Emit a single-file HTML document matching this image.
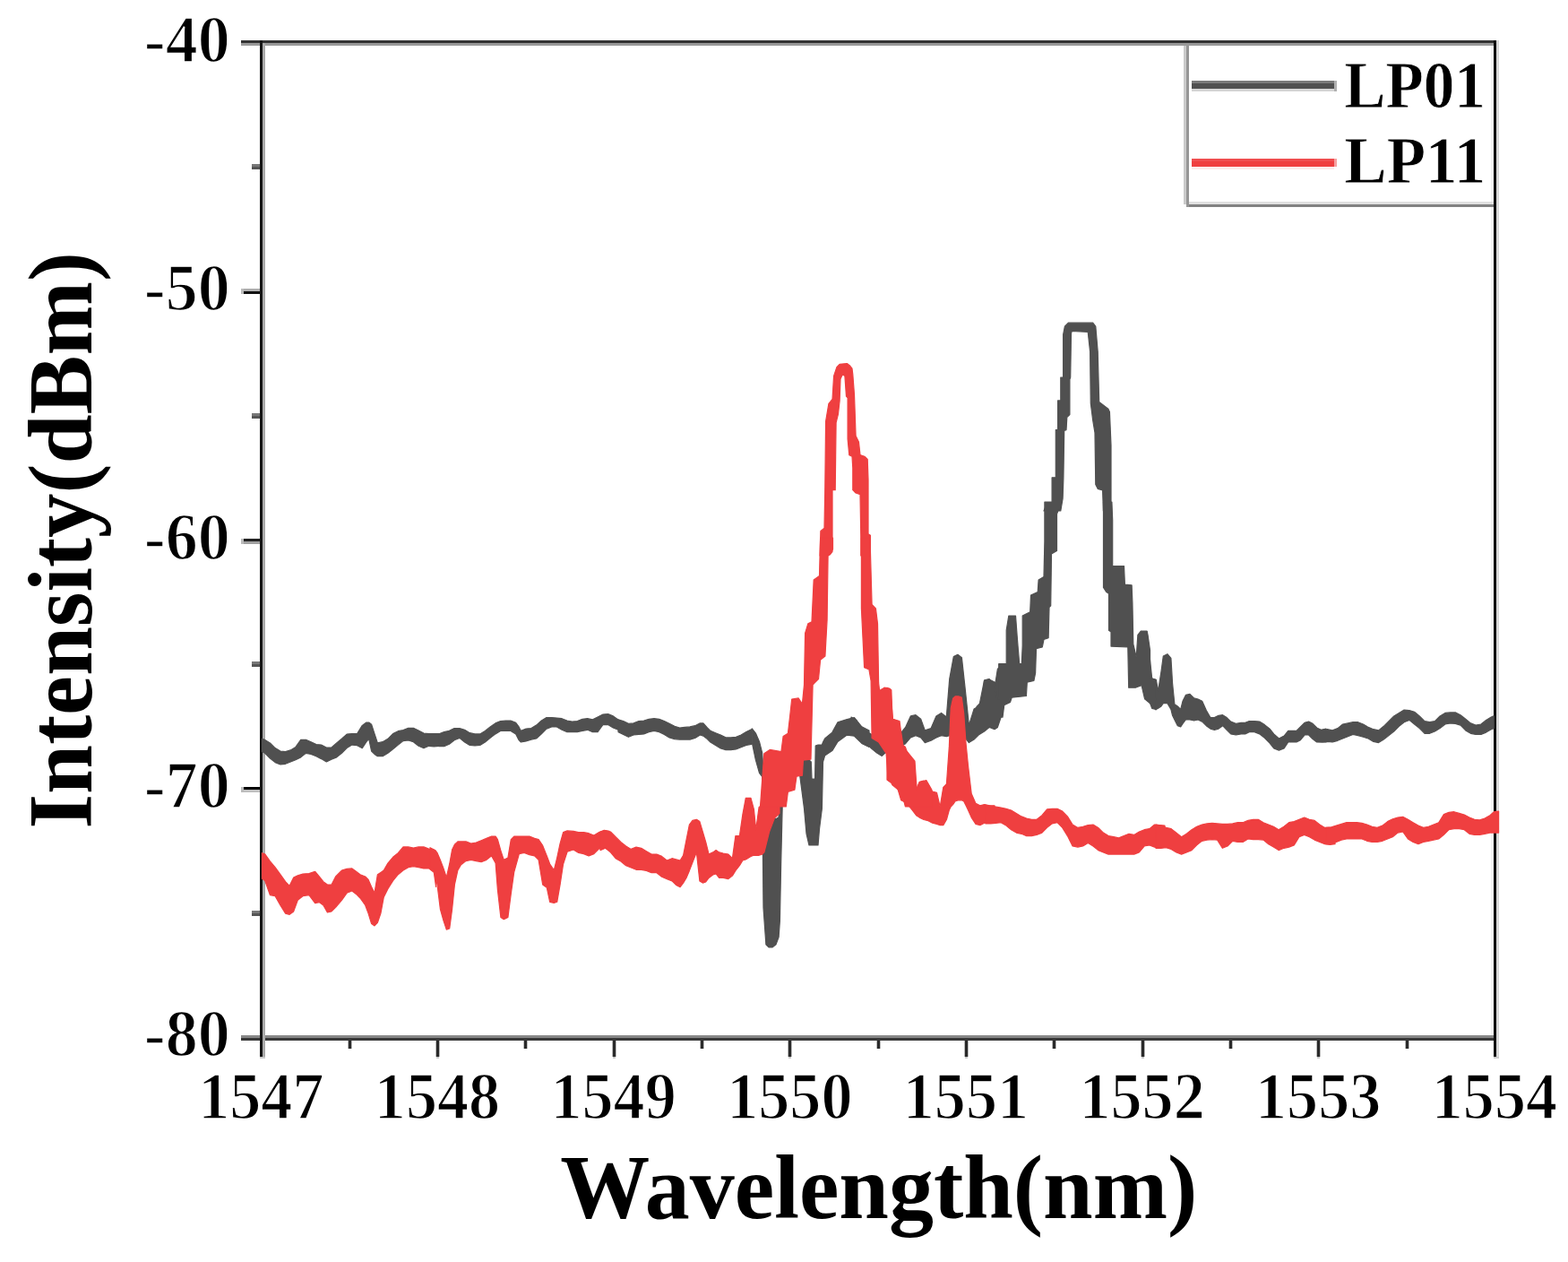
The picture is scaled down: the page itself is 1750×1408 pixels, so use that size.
<!DOCTYPE html>
<html><head><meta charset="utf-8"><title>Spectrum</title>
<style>html,body{margin:0;padding:0;background:#fff;overflow:hidden;}svg{display:block;}</style>
</head><body>
<svg width="1750" height="1408" viewBox="0 0 1750 1408">
<rect width="1750" height="1408" fill="#fff"/>
<g shape-rendering="crispEdges">
<rect x="269" y="45" width="1404" height="3" fill="#333"/>
<rect x="269" y="48" width="1404" height="3" fill="#999"/>
<rect x="269" y="1155" width="1404" height="3" fill="#888"/>
<rect x="269" y="1158" width="1404" height="3" fill="#383838"/>
<rect x="290" y="45" width="3" height="1134" fill="#151515"/>
<rect x="293" y="48" width="3" height="1131" fill="#aaa"/>
<rect x="290" y="1179" width="6" height="2" fill="#ccc"/>
<rect x="1667" y="45" width="3" height="1134" fill="#0a0a0a"/>
<rect x="1670" y="45" width="3" height="1134" fill="#d8d8d8"/>
<rect x="1664" y="51" width="3" height="1104" fill="#f4f4f4"/>
<rect x="1667" y="1179" width="6" height="2" fill="#ccc"/>
<rect x="272" y="322" width="18" height="3" fill="#b0b0b0"/>
<rect x="269" y="322" width="3" height="3" fill="#bbb"/>
<rect x="272" y="325" width="18" height="3" fill="#111"/>
<rect x="269" y="325" width="3" height="3" fill="#bbb"/>
<rect x="272" y="601" width="18" height="3" fill="#222"/>
<rect x="269" y="601" width="3" height="3" fill="#bbb"/>
<rect x="272" y="604" width="18" height="3" fill="#a0a0a0"/>
<rect x="269" y="604" width="3" height="3" fill="#bbb"/>
<rect x="272" y="878" width="18" height="3" fill="#000"/>
<rect x="269" y="878" width="3" height="3" fill="#bbb"/>
<rect x="272" y="881" width="18" height="3" fill="#c0c0c0"/>
<rect x="269" y="881" width="3" height="3" fill="#bbb"/>
<rect x="281" y="183" width="9" height="3" fill="#777"/>
<rect x="281" y="186" width="9" height="3" fill="#555"/>
<rect x="281" y="461" width="9" height="3" fill="#777"/>
<rect x="281" y="464" width="9" height="3" fill="#555"/>
<rect x="281" y="738" width="9" height="3" fill="#777"/>
<rect x="281" y="741" width="9" height="3" fill="#555"/>
<rect x="281" y="1016" width="9" height="3" fill="#777"/>
<rect x="281" y="1019" width="9" height="3" fill="#555"/>
<rect x="388.6" y="1161" width="3" height="9" fill="#2a2a2a"/>
<rect x="387.6" y="1161" width="1" height="9" fill="#bbb"/>
<rect x="391.6" y="1161" width="1" height="9" fill="#bbb"/>
<rect x="487.0" y="1161" width="3" height="18" fill="#2a2a2a"/>
<rect x="486.0" y="1161" width="1" height="18" fill="#bbb"/>
<rect x="490.0" y="1161" width="1" height="18" fill="#bbb"/>
<rect x="487.0" y="1179" width="3" height="2" fill="#ccc"/>
<rect x="585.3" y="1161" width="3" height="9" fill="#2a2a2a"/>
<rect x="584.3" y="1161" width="1" height="9" fill="#bbb"/>
<rect x="588.3" y="1161" width="1" height="9" fill="#bbb"/>
<rect x="683.6" y="1161" width="3" height="18" fill="#2a2a2a"/>
<rect x="682.6" y="1161" width="1" height="18" fill="#bbb"/>
<rect x="686.6" y="1161" width="1" height="18" fill="#bbb"/>
<rect x="683.6" y="1179" width="3" height="2" fill="#ccc"/>
<rect x="781.9" y="1161" width="3" height="9" fill="#2a2a2a"/>
<rect x="780.9" y="1161" width="1" height="9" fill="#bbb"/>
<rect x="784.9" y="1161" width="1" height="9" fill="#bbb"/>
<rect x="880.3" y="1161" width="3" height="18" fill="#2a2a2a"/>
<rect x="879.3" y="1161" width="1" height="18" fill="#bbb"/>
<rect x="883.3" y="1161" width="1" height="18" fill="#bbb"/>
<rect x="880.3" y="1179" width="3" height="2" fill="#ccc"/>
<rect x="978.6" y="1161" width="3" height="9" fill="#2a2a2a"/>
<rect x="977.6" y="1161" width="1" height="9" fill="#bbb"/>
<rect x="981.6" y="1161" width="1" height="9" fill="#bbb"/>
<rect x="1076.9" y="1161" width="3" height="18" fill="#2a2a2a"/>
<rect x="1075.9" y="1161" width="1" height="18" fill="#bbb"/>
<rect x="1079.9" y="1161" width="1" height="18" fill="#bbb"/>
<rect x="1076.9" y="1179" width="3" height="2" fill="#ccc"/>
<rect x="1175.3" y="1161" width="3" height="9" fill="#2a2a2a"/>
<rect x="1174.3" y="1161" width="1" height="9" fill="#bbb"/>
<rect x="1178.3" y="1161" width="1" height="9" fill="#bbb"/>
<rect x="1273.6" y="1161" width="3" height="18" fill="#2a2a2a"/>
<rect x="1272.6" y="1161" width="1" height="18" fill="#bbb"/>
<rect x="1276.6" y="1161" width="1" height="18" fill="#bbb"/>
<rect x="1273.6" y="1179" width="3" height="2" fill="#ccc"/>
<rect x="1371.9" y="1161" width="3" height="9" fill="#2a2a2a"/>
<rect x="1370.9" y="1161" width="1" height="9" fill="#bbb"/>
<rect x="1374.9" y="1161" width="1" height="9" fill="#bbb"/>
<rect x="1470.2" y="1161" width="3" height="18" fill="#2a2a2a"/>
<rect x="1469.2" y="1161" width="1" height="18" fill="#bbb"/>
<rect x="1473.2" y="1161" width="1" height="18" fill="#bbb"/>
<rect x="1470.2" y="1179" width="3" height="2" fill="#ccc"/>
<rect x="1568.6" y="1161" width="3" height="9" fill="#2a2a2a"/>
<rect x="1567.6" y="1161" width="1" height="9" fill="#bbb"/>
<rect x="1571.6" y="1161" width="1" height="9" fill="#bbb"/>
</g>
<g font-family="Liberation Serif, serif" font-weight="bold" fill="#000" stroke="#fff" stroke-width="1.6">
<text transform="translate(256.7,69.1) scale(0.979,1)" font-size="73.5" text-anchor="end">-40</text>
<text transform="translate(256.7,345.5) scale(0.979,1)" font-size="73.5" text-anchor="end">-50</text>
<text transform="translate(256.7,624.0) scale(0.979,1)" font-size="73.5" text-anchor="end">-60</text>
<text transform="translate(256.7,901.0) scale(0.979,1)" font-size="73.5" text-anchor="end">-70</text>
<text transform="translate(256.7,1178.3) scale(0.979,1)" font-size="73.5" text-anchor="end">-80</text>
<text transform="translate(291.3,1248.3) scale(0.942,1)" font-size="74.5" text-anchor="middle">1547</text>
<text transform="translate(488.0,1248.3) scale(0.942,1)" font-size="74.5" text-anchor="middle">1548</text>
<text transform="translate(684.6,1248.3) scale(0.942,1)" font-size="74.5" text-anchor="middle">1549</text>
<text transform="translate(881.3,1248.3) scale(0.942,1)" font-size="74.5" text-anchor="middle">1550</text>
<text transform="translate(1077.9,1248.3) scale(0.942,1)" font-size="74.5" text-anchor="middle">1551</text>
<text transform="translate(1274.6,1248.3) scale(0.942,1)" font-size="74.5" text-anchor="middle">1552</text>
<text transform="translate(1471.2,1248.3) scale(0.942,1)" font-size="74.5" text-anchor="middle">1553</text>
<text transform="translate(1667.9,1248.3) scale(0.942,1)" font-size="74.5" text-anchor="middle">1554</text>
<text transform="translate(980.8,1359.2) scale(0.994,1)" font-size="100.6" text-anchor="middle" stroke="none">Wavelength(nm)</text>
<text transform="translate(102.4,924.4) rotate(-90) scale(0.9675,1)" font-size="102.3" stroke="none">Intensity(dBm)</text>
<text transform="translate(1500.35,119.87) scale(0.9415,1)" font-size="73.5" stroke-width="0.8">LP01</text>
<text transform="translate(1500.35,203.97) scale(0.966,1)" font-size="73.5" stroke-width="0.8">LP11</text>
</g>
<g shape-rendering="crispEdges">
<rect x="1321" y="51" width="3" height="177" fill="#cacaca"/>
<rect x="1324" y="51" width="3" height="180" fill="#969696"/>
<rect x="1327" y="225" width="340" height="3" fill="#e0e0e0"/>
<rect x="1327" y="228" width="340" height="3" fill="#828282"/>
<rect x="1330" y="90" width="159" height="3" fill="#7a7a7a"/>
<rect x="1330" y="93" width="159" height="6" fill="#505050"/>
<rect x="1330" y="99" width="159" height="3" fill="#d5d5d5"/>
<rect x="1489" y="90" width="3" height="12" fill="#b0b0b0"/>
<rect x="1330" y="177" width="159" height="3" fill="#f04e50"/>
<rect x="1330" y="180" width="159" height="6" fill="#ef3f40"/>
<rect x="1330" y="186" width="159" height="3" fill="#fdecec"/>
<rect x="1489" y="177" width="3" height="9" fill="#f6a0a0"/>
</g>
<g fill="#505050" stroke="#505050" stroke-width="1.2" stroke-linejoin="round">
<path d="M292.5,824.3 295.7,825.4 301.4,828.9 307.1,834.6 312.9,838.0 318.6,838.6 324.3,836.9 330.0,833.4 335.7,825.4 341.4,825.4 347.1,827.7 352.9,830.6 358.6,831.1 364.3,834.0 370.0,834.0 375.7,828.9 381.4,824.3 387.1,819.1 392.9,818.6 398.6,818.6 404.3,809.4 408.9,806.0 411.7,806.0 414.6,808.3 418.0,818.6 421.4,828.9 427.1,827.7 432.9,824.3 438.6,818.6 444.3,815.7 450.0,814.6 455.7,812.3 461.4,812.3 467.1,815.1 472.9,818.0 478.6,818.6 484.3,818.6 490.0,818.6 490.0,832.3 484.3,832.9 478.6,832.3 472.9,834.6 467.1,832.3 461.4,827.7 455.7,826.0 450.0,826.6 444.3,831.1 438.6,835.7 432.9,840.3 427.1,843.7 421.4,843.7 418.0,841.4 414.6,838.0 411.7,824.3 408.9,827.7 404.3,834.6 398.6,831.7 392.9,831.1 387.1,834.6 381.4,840.3 375.7,844.9 370.0,847.1 364.3,850.0 358.6,846.6 352.9,843.7 347.1,841.4 341.4,840.3 335.7,844.9 330.0,847.7 324.3,850.0 318.6,852.3 312.9,852.9 307.1,850.6 301.4,846.0 295.7,840.3 292.5,838.6Z"/>
<path d="M490.0,818.9 495.7,816.6 501.4,815.4 507.1,812.6 512.9,812.6 518.6,814.3 524.3,817.7 530.0,818.9 535.7,818.9 541.4,815.4 547.1,810.9 552.9,806.9 558.6,804.6 564.3,804.0 570.0,804.0 575.7,806.3 579.1,810.9 581.4,815.4 587.1,813.1 592.9,812.6 598.6,809.1 604.3,804.0 610.0,800.6 615.7,800.6 621.4,801.1 627.1,801.7 632.9,804.0 638.6,805.1 644.3,804.6 650.0,802.3 655.7,801.7 661.4,802.9 667.1,800.0 672.9,797.1 678.6,796.6 684.3,798.9 690.0,802.9 690.0,814.3 684.3,812.0 678.6,808.6 672.9,808.6 667.1,816.6 661.4,816.6 655.7,814.3 650.0,815.4 644.3,816.6 638.6,816.6 632.9,816.6 627.1,814.3 621.4,810.9 615.7,810.9 610.0,813.1 604.3,818.9 598.6,824.0 592.9,825.1 587.1,826.9 581.4,828.0 579.1,825.7 575.7,818.9 570.0,815.4 564.3,815.4 558.6,815.4 552.9,818.9 547.1,823.4 541.4,828.0 535.7,831.4 530.0,832.0 524.3,831.4 518.6,828.0 512.9,823.4 507.1,825.7 501.4,830.3 495.7,832.6 490.0,832.6Z"/>
<path d="M690.0,802.9 695.7,804.6 701.4,807.4 707.1,806.9 712.9,804.6 718.6,804.0 724.3,802.3 730.0,801.7 735.7,802.3 741.4,804.6 747.1,807.4 752.9,810.3 758.6,812.0 764.3,811.4 770.0,810.9 775.7,809.7 781.4,806.9 784.9,806.9 789.4,812.0 792.9,815.4 798.6,817.7 804.3,820.0 810.0,822.9 815.7,822.9 821.4,822.3 827.1,820.0 832.9,816.6 838.6,813.7 838.6,830.3 832.9,831.4 827.1,833.7 821.4,836.0 815.7,836.6 810.0,836.6 804.3,834.9 798.6,831.4 792.9,828.0 789.4,824.6 784.9,821.1 781.4,820.0 775.7,823.4 770.0,825.1 764.3,825.1 758.6,825.1 752.9,824.6 747.1,822.9 741.4,819.4 735.7,816.6 730.0,815.4 724.3,816.6 718.6,818.9 712.9,819.4 707.1,820.0 701.4,822.3 695.7,819.4 690.0,816.6Z"/>
<path d="M839.3,812.9 843.4,818.1 847.5,827.4 850.6,839.7 852.0,858.2 854.9,862.4 858.0,872.6 861.9,911.8 866.0,913.8 869.1,911.8 870.4,841.8 871.6,839.7 874.3,839.7 881.5,841.8 891.8,845.9 897.5,848.0 900.0,848.0 903.0,848.0 905.3,850.0 906.0,869.0 909.6,869.0 910.2,832.0 913.0,831.0 914.5,831.0 917.4,831.0 918.5,828.0 920.6,824.0 928.8,817.1 935.0,805.7 945.3,802.6 953.5,800.6 961.8,810.9 970.0,815.0 970.0,833.5 961.8,829.4 953.5,821.2 945.3,820.1 935.0,827.4 928.8,837.6 920.6,843.0 918.5,850.0 917.4,902.0 914.5,925.0 913.0,943.0 910.2,943.0 909.6,943.0 906.0,943.0 905.3,943.0 903.0,943.0 900.0,930.0 897.5,902.0 891.8,858.2 881.5,854.1 874.3,852.1 871.6,965.3 870.4,1027.1 869.1,1045.6 866.0,1053.8 861.9,1056.9 858.0,1056.9 854.9,1053.8 852.0,1012.7 850.6,866.5 847.5,862.4 843.4,847.9 839.3,828.4Z"/>
<path d="M950.0,800.0 955.7,803.4 961.4,813.7 967.1,816.0 972.9,819.4 978.6,822.9 984.3,825.1 995.7,819.4 1004.9,818.3 1010.6,811.4 1016.3,798.9 1022.0,797.7 1027.7,802.3 1032.3,814.9 1039.1,812.6 1044.9,798.9 1050.6,795.4 1056.3,800.0 1059.7,757.7 1064.3,732.6 1068.9,730.3 1073.4,733.7 1076.9,765.7 1081.4,809.1 1087.1,790.9 1092.9,787.4 1098.6,758.9 1104.3,757.7 1110.0,768.0 1113.4,746.3 1119.1,740.6 1119.1,794.3 1113.4,811.4 1110.0,813.7 1104.3,811.4 1098.6,816.0 1092.9,819.4 1087.1,825.1 1081.4,828.6 1076.9,822.9 1073.4,820.6 1068.9,819.4 1064.3,820.6 1059.7,820.6 1056.3,821.7 1050.6,820.6 1044.9,822.9 1039.1,826.3 1032.3,828.6 1027.7,822.9 1022.0,820.6 1016.3,822.9 1010.6,829.7 1004.9,833.1 995.7,833.1 984.3,843.4 978.6,840.0 972.9,835.4 967.1,829.7 961.4,825.1 955.7,820.6 950.0,817.1Z"/>
<path d="M1280.0,704.6 1282.3,725.1 1285.7,757.1 1290.3,758.3 1292.6,770.9 1296.0,749.1 1298.3,732.0 1302.9,729.7 1306.9,734.3 1308.6,762.9 1310.9,785.7 1314.3,788.0 1317.7,791.4 1320.0,782.3 1323.4,775.4 1328.0,774.3 1332.6,778.9 1337.1,780.0 1341.7,782.3 1346.3,792.6 1350.9,800.6 1355.4,800.6 1360.0,798.3 1364.6,797.7 1369.1,800.6 1373.7,805.1 1379.4,807.4 1385.1,806.3 1389.7,806.3 1394.3,804.6 1400.0,804.6 1405.7,805.1 1411.4,808.6 1417.1,813.1 1421.7,818.9 1427.4,824.0 1433.1,821.1 1437.7,815.4 1442.3,815.4 1446.9,815.4 1451.4,810.9 1456.0,806.3 1460.6,805.1 1465.1,807.4 1469.7,812.0 1474.3,814.3 1480.0,813.1 1480.0,828.0 1474.3,828.0 1469.7,828.0 1465.1,824.6 1460.6,820.0 1456.0,820.0 1451.4,825.7 1446.9,828.0 1442.3,828.0 1437.7,828.0 1433.1,834.9 1427.4,837.1 1421.7,834.9 1417.1,829.1 1411.4,823.4 1405.7,818.9 1400.0,816.6 1394.3,816.6 1389.7,818.9 1385.1,818.9 1379.4,820.0 1373.7,818.9 1369.1,814.3 1364.6,809.7 1360.0,813.1 1355.4,814.3 1350.9,813.1 1346.3,809.7 1341.7,805.1 1337.1,802.9 1332.6,804.0 1328.0,802.9 1323.4,802.9 1320.0,807.4 1317.7,810.9 1314.3,809.7 1310.9,802.9 1308.6,798.3 1306.9,791.4 1302.9,784.6 1298.3,784.6 1296.0,788.0 1292.6,790.3 1290.3,791.4 1285.7,790.3 1282.3,781.1 1280.0,780.0Z"/>
<path d="M1470.0,813.7 1475.7,814.9 1481.4,813.7 1487.1,814.9 1492.9,812.6 1498.6,808.0 1504.3,806.9 1510.0,805.7 1515.7,805.7 1521.4,808.0 1527.1,811.4 1532.9,813.7 1538.6,814.9 1544.3,810.3 1550.0,804.6 1555.7,798.9 1561.4,795.4 1567.1,792.0 1572.9,792.6 1578.6,794.3 1584.3,798.9 1590.0,804.6 1595.7,805.7 1601.4,804.6 1607.1,798.9 1612.9,795.4 1618.6,794.9 1624.3,794.9 1630.0,797.7 1635.7,802.3 1641.4,806.9 1647.1,809.1 1652.9,808.0 1658.6,803.4 1664.3,800.0 1667.1,798.9 1667.1,812.6 1664.3,813.7 1658.6,817.1 1652.9,819.4 1647.1,819.4 1641.4,818.3 1635.7,814.9 1630.0,809.1 1624.3,807.4 1618.6,806.9 1612.9,808.0 1607.1,812.6 1601.4,816.0 1595.7,818.3 1590.0,818.3 1584.3,812.6 1578.6,808.0 1572.9,803.4 1567.1,805.7 1561.4,810.3 1555.7,816.0 1550.0,820.6 1544.3,825.1 1538.6,828.6 1532.9,827.4 1527.1,824.0 1521.4,822.3 1515.7,820.6 1510.0,819.4 1504.3,821.7 1498.6,824.0 1492.9,826.3 1487.1,828.0 1481.4,827.4 1475.7,828.0 1470.0,827.4Z"/>
<path d="M1165.0,570.0 1168.1,562.5 1174.1,562.5 1174.1,532.8 1178.3,532.8 1178.3,479.7 1180.6,479.7 1180.6,446.9 1183.8,446.9 1183.8,421.1 1186.6,421.1 1186.6,373.4 1188.4,364.1 1192.3,360.2 1219.7,360.2 1222.8,364.1 1225.2,392.2 1226.7,448.4 1236.9,456.2 1238.4,459.4 1240.0,496.9 1240.0,570.0 1231.4,570.0 1230.6,546.9 1225.2,545.3 1222.8,540.6 1222.0,482.8 1219.7,468.8 1217.3,450.0 1216.6,392.2 1214.2,370.3 1196.2,369.5 1195.5,371.9 1194.7,421.1 1193.9,423.4 1193.9,462.5 1190.8,465.6 1190.0,479.7 1187.7,480.5 1186.9,532.8 1186.1,556.2 1183.8,570.0Z"/>
<path d="M1090.0,788.5 1096.8,781.7 1098.5,759.5 1103.6,757.8 1110.5,761.2 1112.2,778.2 1114.7,779.9 1114.7,740.7 1123.2,740.7 1123.2,703.2 1125.8,687.0 1133.5,687.0 1135.2,710.0 1136.0,720.3 1137.7,740.7 1140.3,740.7 1141.2,720.3 1141.2,687.0 1144.6,685.3 1149.7,682.8 1150.5,664.0 1158.2,660.6 1159.1,647.0 1165.0,643.5 1165.9,604.3 1165.9,560.0 1184.6,560.0 1182.1,566.8 1179.5,573.6 1179.5,614.6 1173.5,618.0 1172.7,675.9 1171.0,677.6 1170.1,711.7 1165.0,713.5 1163.3,722.0 1156.5,723.7 1155.6,751.0 1153.9,759.5 1146.3,761.2 1145.4,776.5 1129.2,778.2 1127.5,783.4 1120.7,786.8 1119.0,800.1 1090.0,800.1Z"/>
<path d="M1231.5,560.0 1231.5,655.5 1234.9,660.6 1237.5,662.3 1237.5,703.2 1240.0,704.9 1240.0,721.1 1258.8,722.0 1259.7,767.2 1267.3,767.2 1274.1,764.6 1277.6,779.9 1286.1,786.8 1290.0,791.9 1290.0,758.6 1283.5,756.1 1283.5,725.4 1281.0,708.3 1280.1,704.1 1273.3,704.1 1269.9,708.3 1268.2,733.1 1264.8,718.6 1263.9,672.5 1263.1,652.9 1255.4,652.1 1254.5,631.6 1246.0,631.6 1241.7,631.6 1241.7,580.5 1240.9,560.0Z"/>
</g>
<g fill="#ef3f40" stroke="#ef3f40" stroke-width="1.2" stroke-linejoin="round">
<path d="M292.5,951.7 295.7,952.9 301.4,960.9 307.1,967.7 312.9,975.7 318.6,983.7 323.1,988.3 327.7,979.1 332.3,976.9 338.0,975.1 344.9,974.6 351.7,972.3 356.3,978.0 360.9,983.7 365.4,987.1 370.0,987.1 374.6,978.0 381.4,971.1 387.1,969.4 392.9,968.9 397.4,972.3 402.0,975.7 407.7,978.0 411.1,981.4 414.6,989.4 418.0,996.3 421.4,975.7 424.9,973.4 428.3,971.1 432.9,963.1 438.6,956.3 444.3,951.7 450.0,944.9 455.7,944.9 461.4,946.0 467.1,944.9 472.9,944.9 478.6,947.1 484.3,948.3 486.6,949.4 486.6,989.4 484.3,973.4 478.6,968.9 472.9,968.9 467.1,967.7 461.4,966.6 455.7,967.7 450.0,971.1 444.3,975.7 438.6,982.6 432.9,991.7 428.3,1000.9 424.9,1019.1 421.4,1029.4 418.0,1032.9 414.6,1030.6 411.1,1019.1 407.7,1010.0 402.0,1002.0 397.4,997.4 392.9,994.0 387.1,996.3 381.4,1004.3 374.6,1012.3 370.0,1016.9 365.4,1018.0 360.9,1010.0 356.3,1006.6 351.7,1007.7 344.9,998.6 338.0,999.7 332.3,1004.3 327.7,1016.9 323.1,1020.3 318.6,1019.1 312.9,1010.0 307.1,999.7 301.4,998.6 295.7,982.6 292.5,980.3Z"/>
<path d="M480.0,945.7 484.6,948.0 488.0,951.4 491.4,959.4 494.9,968.6 498.3,978.9 501.7,964.0 504.6,948.0 507.4,942.3 510.9,938.9 514.3,938.9 520.0,938.9 525.7,941.1 531.4,940.0 537.1,937.7 542.9,935.4 548.6,933.1 553.1,933.1 555.4,936.6 558.9,949.1 562.3,959.4 566.9,957.1 570.3,936.6 573.7,933.1 579.4,933.1 585.1,933.1 590.9,933.1 596.6,935.4 601.1,936.6 605.7,943.4 610.3,954.9 613.7,964.0 618.3,970.9 621.7,957.1 625.1,941.1 628.6,928.6 633.1,926.9 640.0,927.4 645.7,928.6 651.4,928.6 657.1,929.7 662.9,932.0 668.6,928.6 674.3,926.3 680.0,927.4 680.0,948.0 674.3,945.7 668.6,946.9 662.9,952.6 657.1,954.9 651.4,952.6 645.7,951.4 640.0,948.0 633.1,950.3 628.6,964.0 625.1,986.9 621.7,1006.3 618.3,1007.4 613.7,1006.3 610.3,990.3 605.7,986.9 601.1,959.4 596.6,954.9 590.9,953.7 585.1,951.4 579.4,952.6 573.7,973.1 570.3,997.1 566.9,1023.4 562.3,1025.7 558.9,1023.4 555.4,992.6 553.1,962.9 548.6,954.9 542.9,959.4 537.1,961.7 531.4,960.6 525.7,959.4 520.0,960.6 514.3,965.1 510.9,970.9 507.4,986.9 504.6,1014.3 501.7,1036.0 498.3,1037.1 494.9,1026.9 491.4,1014.3 488.0,986.9 484.6,970.9 480.0,968.6Z"/>
<path d="M670.0,928.0 675.7,926.9 681.4,928.0 687.1,933.7 692.9,939.4 698.6,944.0 704.3,947.4 710.0,945.1 715.7,946.3 721.4,949.7 727.1,953.1 732.9,953.1 738.6,955.4 744.3,960.0 750.0,957.7 754.6,958.9 759.1,960.0 762.6,954.3 766.0,937.1 769.4,920.0 772.9,915.4 777.4,914.3 780.9,916.6 784.3,928.0 787.7,939.4 791.1,953.1 795.7,950.9 799.1,948.6 802.6,950.9 807.1,952.0 812.9,953.1 817.4,957.7 820.9,932.6 825.4,932.6 828.9,908.6 832.3,890.3 838.0,890.3 841.4,902.9 843.7,925.7 847.1,900.6 850.6,898.3 852.9,880.0 858.6,880.0 864.3,880.0 870.0,880.0 870.0,907.4 864.3,913.1 858.6,928.0 852.9,950.9 850.6,953.1 847.1,954.3 843.7,954.3 841.4,954.3 838.0,955.4 832.3,958.9 828.9,960.0 825.4,965.7 820.9,971.4 817.4,977.1 812.9,980.6 807.1,979.4 802.6,979.4 799.1,974.9 795.7,976.0 791.1,979.4 787.7,984.0 784.3,985.1 780.9,982.9 777.4,950.9 772.9,962.3 769.4,971.4 766.0,979.4 762.6,985.1 759.1,989.7 754.6,987.4 750.0,982.9 744.3,980.6 738.6,978.3 732.9,973.7 727.1,973.7 721.4,971.4 715.7,970.3 710.0,970.3 704.3,968.0 698.6,965.7 692.9,961.1 687.1,957.7 681.4,950.9 675.7,946.3 670.0,948.6Z"/>
<path d="M990.0,767.2 994.8,769.7 996.0,802.3 1002.1,804.7 1005.7,830.0 1010.5,833.6 1014.1,844.5 1019.0,848.1 1022.6,880.7 1026.2,872.3 1031.0,871.1 1035.9,879.5 1040.7,883.1 1045.5,884.4 1049.2,900.0 1052.8,878.3 1056.4,874.7 1059.4,832.4 1061.2,790.2 1063.6,779.3 1066.1,776.9 1069.7,776.9 1073.3,778.1 1075.7,796.2 1078.1,830.0 1080.5,854.2 1084.2,885.6 1089.0,896.4 1093.8,898.8 1098.7,897.6 1104.7,898.8 1110.0,898.8 1110.0,918.2 1104.7,918.2 1098.7,918.2 1093.8,920.6 1089.0,919.4 1084.2,912.1 1080.5,903.7 1078.1,898.8 1075.7,894.0 1073.3,892.8 1069.7,892.8 1066.1,894.0 1063.6,897.6 1061.2,900.0 1059.4,903.7 1056.4,914.5 1052.8,920.6 1049.2,920.6 1045.5,919.4 1040.7,918.2 1035.9,915.7 1031.0,914.5 1026.2,912.1 1022.6,909.7 1019.0,904.9 1014.1,898.8 1010.5,895.2 1005.7,892.8 1002.1,880.7 996.0,875.9 994.8,873.5 990.0,869.9Z"/>
<path d="M1100.0,898.3 1105.7,899.4 1111.4,900.0 1117.1,901.1 1122.9,902.3 1128.6,904.0 1134.3,907.4 1140.0,910.9 1145.7,913.1 1151.4,914.3 1157.1,914.3 1162.9,909.7 1168.6,902.9 1174.3,902.3 1180.0,902.3 1185.7,905.1 1191.4,910.9 1197.1,920.0 1202.9,923.4 1208.6,922.3 1214.3,920.6 1220.0,920.0 1225.7,923.4 1231.4,929.1 1237.1,932.6 1242.9,933.7 1248.6,934.9 1254.3,932.6 1260.0,930.3 1265.7,931.4 1271.4,928.0 1277.1,925.7 1282.9,924.6 1288.6,920.0 1294.3,920.6 1300.0,921.1 1300.0,944.0 1294.3,946.3 1288.6,945.1 1282.9,942.9 1277.1,944.0 1271.4,950.9 1265.7,953.1 1260.0,953.1 1254.3,953.1 1248.6,953.1 1242.9,953.1 1237.1,953.1 1231.4,950.9 1225.7,948.6 1220.0,944.0 1214.3,940.6 1208.6,944.0 1202.9,945.1 1197.1,944.0 1191.4,932.6 1185.7,923.4 1180.0,917.7 1174.3,918.9 1168.6,923.4 1162.9,929.1 1157.1,931.4 1151.4,932.6 1145.7,932.6 1140.0,930.3 1134.3,929.1 1128.6,925.7 1122.9,921.1 1117.1,917.7 1111.4,918.3 1105.7,918.9 1100.0,918.9Z"/>
<path d="M1290.0,920.0 1295.7,921.1 1301.4,923.4 1307.1,924.6 1312.9,929.1 1318.6,933.7 1324.3,930.3 1330.0,925.7 1335.7,922.3 1341.4,920.0 1347.1,918.9 1352.9,918.3 1358.6,918.9 1364.3,919.4 1370.0,919.4 1375.7,918.9 1381.4,917.7 1387.1,917.7 1392.9,915.4 1398.6,914.3 1404.3,914.3 1410.0,917.7 1415.7,920.0 1421.4,922.3 1427.1,925.7 1432.9,922.3 1438.6,917.7 1444.3,916.6 1450.0,914.3 1455.7,912.0 1461.4,914.3 1467.1,915.4 1472.9,920.0 1478.6,923.4 1484.3,923.4 1490.0,923.4 1490.0,941.7 1484.3,942.3 1478.6,941.7 1472.9,939.4 1467.1,937.1 1461.4,933.7 1455.7,931.4 1450.0,933.7 1444.3,942.9 1438.6,945.1 1432.9,946.3 1427.1,948.6 1421.4,945.1 1415.7,941.7 1410.0,937.1 1404.3,936.6 1398.6,936.6 1392.9,936.0 1387.1,939.4 1381.4,939.4 1375.7,938.3 1370.0,944.0 1364.3,946.3 1358.6,937.1 1352.9,936.6 1347.1,937.1 1341.4,938.3 1335.7,942.9 1330.0,948.6 1324.3,950.9 1318.6,953.1 1312.9,950.9 1307.1,947.4 1301.4,945.7 1295.7,946.3 1290.0,946.3Z"/>
<path d="M1480.0,923.4 1485.7,922.9 1491.4,921.1 1497.1,919.4 1502.9,917.7 1508.6,917.7 1514.3,917.7 1520.0,918.3 1525.7,920.0 1531.4,922.3 1537.1,923.4 1542.9,921.1 1548.6,916.6 1554.3,913.7 1560.0,912.0 1565.7,911.4 1571.4,914.3 1577.1,917.7 1582.9,921.1 1588.6,923.4 1594.3,922.3 1600.0,920.0 1605.7,917.7 1611.4,908.6 1617.1,906.3 1622.9,905.7 1628.6,907.4 1634.3,909.1 1640.0,912.0 1645.7,914.3 1651.4,914.9 1657.1,913.1 1662.9,909.7 1667.4,905.7 1672.6,905.1 1672.6,929.1 1667.4,929.1 1662.9,929.1 1657.1,930.3 1651.4,931.4 1645.7,931.4 1640.0,930.3 1634.3,925.7 1628.6,924.6 1622.9,924.6 1617.1,925.7 1611.4,931.4 1605.7,936.0 1600.0,937.1 1594.3,938.3 1588.6,939.4 1582.9,941.7 1577.1,939.4 1571.4,936.0 1565.7,928.0 1560.0,929.1 1554.3,933.7 1548.6,936.0 1542.9,938.3 1537.1,939.4 1531.4,939.4 1525.7,938.3 1520.0,936.0 1514.3,936.0 1508.6,936.0 1502.9,936.0 1497.1,937.1 1491.4,939.4 1485.7,941.7 1480.0,941.7Z"/>
<path d="M915.1,619.9 915.9,592.4 920.0,589.2 920.8,543.5 921.6,470.0 924.9,450.4 929.0,445.5 930.6,419.4 933.9,409.6 937.1,406.3 945.3,405.5 948.6,408.0 951.0,411.2 951.8,417.8 953.5,440.6 955.1,486.3 958.4,492.9 960.0,507.6 964.9,509.2 968.2,512.4 969.0,535.3 969.0,595.7 971.4,597.3 971.4,619.9 960.8,619.9 960.8,599.0 960.0,551.6 955.1,550.0 951.8,546.7 951.8,522.2 951.0,509.2 947.8,507.6 946.1,489.6 946.1,443.9 944.5,442.2 942.9,419.4 940.4,417.8 938.0,422.7 937.1,447.1 935.5,461.8 933.1,471.6 932.2,546.7 929.0,546.7 929.0,615.3 926.5,618.6 924.1,619.9Z"/>
<path d="M848.5,899.9 852.8,840.7 859.2,836.4 871.9,838.6 874.1,821.5 879.4,818.3 881.5,800.2 883.7,780.0 891.1,778.9 895.4,785.3 897.5,764.0 898.6,706.5 901.8,695.8 906.0,693.7 908.2,646.9 914.5,642.6 915.6,600.0 929.5,600.0 929.5,612.8 924.1,619.2 923.1,691.6 920.9,732.1 915.6,736.3 913.5,757.6 907.1,764.0 905.0,847.1 896.4,848.1 895.4,865.2 889.0,866.2 886.9,881.2 879.4,883.3 877.3,899.9Z"/>
<path d="M961.4,600.0 961.4,678.8 964.6,744.8 969.9,747.0 972.1,759.7 973.1,823.6 980.6,827.9 989.1,840.7 991.2,870.5 998.7,874.8 1008.3,891.8 1010.4,899.9 1040.0,899.9 1040.0,881.2 1033.8,870.5 1027.4,872.6 1023.2,881.2 1021.0,849.2 1012.5,838.6 1008.3,834.3 1005.1,813.0 1004.0,804.5 996.5,802.3 993.4,768.3 987.0,767.2 981.6,770.4 980.6,761.9 979.5,695.8 977.4,678.8 973.1,674.5 971.0,600.0Z"/>
</g>
</svg>
</body></html>
